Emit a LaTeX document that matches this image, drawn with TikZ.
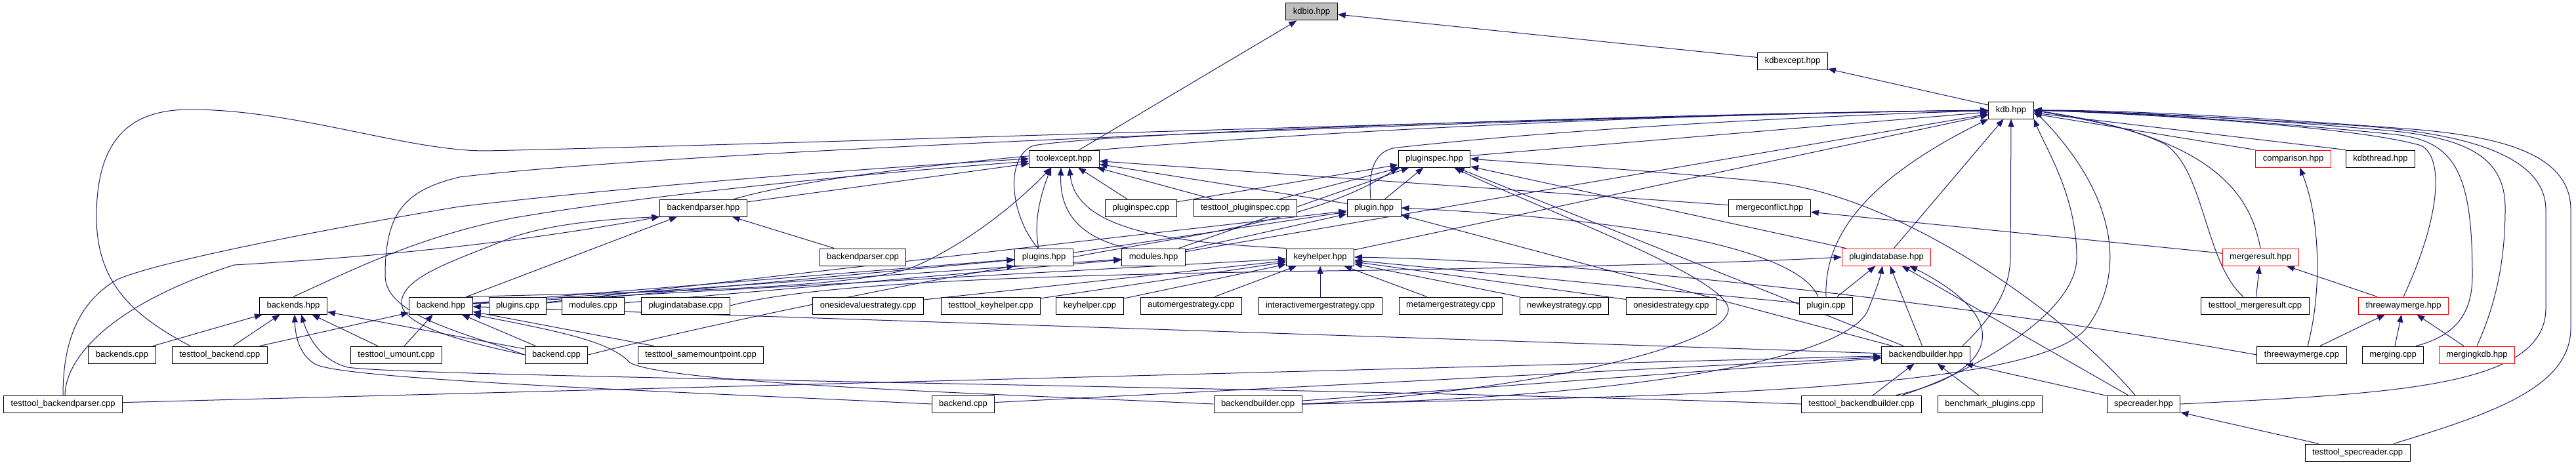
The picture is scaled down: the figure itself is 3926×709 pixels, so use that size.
\documentclass[tikz,border=0pt]{standalone}
\usepackage{fontspec}
\setmainfont{Liberation Sans}
\usetikzlibrary{arrows.meta,backgrounds}
\begin{document}
\begin{tikzpicture}[x=1pt, y=-1pt, every node/.style={font=\fontsize{13}{15}\selectfont},
    filebox/.style={draw=black, line width=1pt, fill=white, inner xsep=11pt, inner ysep=0pt, minimum height=26pt},
    filered/.style={filebox, draw=truncred},
    fileroot/.style={filebox, fill=rootgray},
    incl/.style={draw=edgeblue, line width=1pt, -{Triangle[length=12pt,width=9pt]}}]
    % Define colors
    \definecolor{edgeblue}{RGB}{25,25,112}
    \definecolor{truncred}{RGB}{255,0,0}
    \definecolor{rootgray}{RGB}{191,191,191}

    \useasboundingbox (0,0) rectangle (3926,709);

    % Headers at the top
    \node[fileroot] (kdbio) at (1999,18) {kdbio.hpp};
    \node[filebox] (kdbexcept) at (2732,93) {kdbexcept.hpp};
    \node[filebox] (kdb) at (3065,168) {kdb.hpp};

    % Row 1
    \node[filebox] (toolexcept) at (1622,242) {toolexcept.hpp};
    \node[filebox] (pluginspec) at (2186,242) {pluginspec.hpp};
    \node[filered] (comparison) at (3495,242) {comparison.hpp};
    \node[filebox] (kdbthread) at (3628,242) {kdbthread.hpp};

    % Row 2
    \node[filebox] (bparserh) at (1072,317) {backendparser.hpp};
    \node[filebox] (pspeccpp) at (1739,317) {pluginspec.cpp};
    \node[filebox] (ttpspec) at (1898,317) {testtool\_pluginspec.cpp};
    \node[filebox] (pluginh) at (2094,317) {plugin.hpp};
    \node[filebox] (mconflict) at (2697,317) {mergeconflict.hpp};

    % Row 3
    \node[filebox] (bparsercpp) at (1315,392) {backendparser.cpp};
    \node[filebox] (pluginsh) at (1591,392) {plugins.hpp};
    \node[filebox] (modulesh) at (1758,392) {modules.hpp};
    \node[filebox] (keyhelperh) at (2012,392) {keyhelper.hpp};
    \node[filered] (pdbh) at (2875,392) {plugindatabase.hpp};
    \node[filered] (mresult) at (3445,392) {mergeresult.hpp};

    % Row 4
    \node[filebox] (backendsh) at (447,466) {backends.hpp};
    \node[filebox] (backendh) at (672,466) {backend.hpp};
    \node[filebox] (pluginscpp) at (789,466) {plugins.cpp};
    \node[filebox] (modulescpp) at (904,466) {modules.cpp};
    \node[filebox] (pdbcpp) at (1045,466) {plugindatabase.cpp};
    \node[filebox] (osvalue) at (1323,466) {onesidevaluestrategy.cpp};
    \node[filebox] (ttkeyhelper) at (1510,466) {testtool\_keyhelper.cpp};
    \node[filebox] (keyhelpercpp) at (1661,466) {keyhelper.cpp};
    \node[filebox] (automerge) at (1815,466) {automergestrategy.cpp};
    \node[filebox] (interactive) at (2012,466) {interactivemergestrategy.cpp};
    \node[filebox] (metamerge) at (2211,466) {metamergestrategy.cpp};
    \node[filebox] (newkey) at (2384,466) {newkeystrategy.cpp};
    \node[filebox] (oneside) at (2547,466) {onesidestrategy.cpp};
    \node[filebox] (plugincpp) at (2783,466) {plugin.cpp};
    \node[filebox] (ttmresult) at (3437,466) {testtool\_mergeresult.cpp};
    \node[filered] (twmergeh) at (3663,466) {threewaymerge.hpp};

    % Row 5
    \node[filebox] (backendscpp) at (186,541) {backends.cpp};
    \node[filebox] (ttbackend) at (335,541) {testtool\_backend.cpp};
    \node[filebox] (ttumount) at (604,541) {testtool\_umount.cpp};
    \node[filebox] (backendcpp) at (848,541) {backend.cpp};
    \node[filebox] (ttsamemount) at (1068,541) {testtool\_samemountpoint.cpp};
    \node[filebox] (bbuilderh) at (2935,541) {backendbuilder.hpp};
    \node[filebox] (twmergecpp) at (3508,541) {threewaymerge.cpp};
    \node[filebox] (mergingcpp) at (3647,541) {merging.cpp};
    \node[filered] (mergingkdb) at (3775,541) {mergingkdb.hpp};

    % Row 6 and 7
    \node[filebox] (ttbparser) at (96,616) {testtool\_backendparser.cpp};
    \node[filebox] (backendcppb) at (1468,616) {backend.cpp};
    \node[filebox] (bbuildercpp) at (1917,616) {backendbuilder.cpp};
    \node[filebox] (ttbbuilder) at (2837,616) {testtool\_backendbuilder.cpp};
    \node[filebox] (benchmark) at (3033,616) {benchmark\_plugins.cpp};
    \node[filebox] (specreaderh) at (3267,616) {specreader.hpp};
    \node[filebox] (ttspecreader) at (3593,690) {testtool\_specreader.cpp};

    \begin{scope}[on background layer]
    \fill[white] (0,0) rectangle (3926,709);
    % Top chain
    \draw[incl] (toolexcept) -- (kdbio);
    \draw[incl] (kdbexcept) -- (kdbio);
    \draw[incl] (kdb) -- (kdbexcept);

    % Into kdb.hpp from the left
    \draw[incl] (bparserh) .. controls (1400,222) and (2500,172) .. (kdb);
    \draw[incl] ([xshift=-45pt]ttbackend.north) .. controls (200,480) and (147,430) .. (147,330)
        .. controls (147,200) and (210,167) .. (290,167) .. controls (450,167) and (620,230) .. (740,230)
        .. controls (1200,220) and (2600,172) .. (kdb);
    \draw[incl] (backendcpp.west) .. controls (700,505) and (587,480) .. (587,420)
        .. controls (587,320) and (620,290) .. (700,270) .. controls (1100,222) and (2600,172) .. (kdb);
    \draw[incl] ([xshift=-9pt]pluginsh.north) .. controls (1540,330) and (1530,240) .. (1575,222)
        .. controls (1700,200) and (2600,172) .. (kdb);
    \draw[incl] ([xshift=-5pt]pluginh.north) .. controls (2085,260) and (2095,228) .. (2130,225)
        .. controls (2400,195) and (2800,175) .. (kdb);
    \draw[incl] (pluginspec) -- (kdb);
    \draw[incl] (keyhelperh) -- (kdb);
    \draw[incl] (modulesh) -- (kdb);
    \draw[incl] (pdbh) -- (kdb);
    \draw[incl] (plugincpp.north) .. controls (2780,370) and (2830,280) .. (kdb.south west);
    \draw[incl] ([xshift=-12pt]bbuilderh.north east) .. controls (3040,480) and (3064,440) .. (3064,390) -- (kdb.south);
    \draw[incl] ([xshift=-30pt]ttbbuilder.north east) .. controls (3000,570) and (3165,480) .. (3165,393)
        .. controls (3165,300) and (3120,230) .. (kdb.south east);
    \draw[incl] (bbuildercpp.east) .. controls (2500,605) and (3100,600) .. (3180,500)
        .. controls (3240,420) and (3230,300) .. (kdb.east);

    % Into kdb.hpp from the right
    \draw[incl] (comparison.north west) -- (kdb);
    \draw[incl] (kdbthread.north west) -- (kdb);
    \draw[incl] (mresult.north) .. controls (3430,300) and (3380,210) .. (kdb.east);
    \draw[incl] ([xshift=-18pt]ttmresult.north) .. controls (3360,400) and (3360,260) .. (3300,220)
        .. controls (3240,190) and (3150,178) .. (kdb.east);
    \draw[incl] (twmergeh.north) .. controls (3720,330) and (3725,240) .. (3690,222)
        .. controls (3600,195) and (3300,175) .. (kdb.east);
    \draw[incl] ([xshift=35pt]mergingcpp.north) .. controls (3750,510) and (3768,470) .. (3768,420)
        .. controls (3768,260) and (3740,215) .. (3650,205) .. controls (3450,185) and (3250,172) .. (kdb.east);
    \draw[incl] (mergingkdb.north) .. controls (3810,450) and (3818,380) .. (3818,317)
        .. controls (3818,240) and (3760,212) .. (3650,200) .. controls (3450,182) and (3250,170) .. (kdb.east);
    \draw[incl] (specreaderh.east) .. controls (3650,600) and (3880,590) .. (3880,470) -- (3880,320)
        .. controls (3880,220) and (3700,200) .. (3600,192) .. controls (3400,180) and (3200,170) .. (kdb.east);
    \draw[incl] ([xshift=55pt]ttspecreader.north) .. controls (3800,630) and (3918,590) .. (3918,500) -- (3918,320)
        .. controls (3918,230) and (3800,205) .. (3650,195) .. controls (3450,180) and (3250,168) .. (kdb.east);

    % Into toolexcept.hpp
    \draw[incl] (ttbparser.north) .. controls (96,520) and (120,460) .. (179,426)
        .. controls (250,395) and (550,340) .. (700,315) .. controls (1000,280) and (1350,255) .. (toolexcept.west);
    \draw[incl] (backendsh.north) .. controls (540,410) and (640,360) .. (784,332)
        .. controls (1000,295) and (1350,262) .. ([yshift=-4pt]toolexcept.west);
    \draw[incl] (bparserh) -- (toolexcept);
    \draw[incl] ([xshift=-10pt]backendh.north east) .. controls (1000,445) and (1300,440) .. (1390,408)
        .. controls (1480,370) and (1560,300) .. ([xshift=-20pt]toolexcept.south);
    \draw[incl] ([xshift=-8pt]pluginsh.north) .. controls (1575,340) and (1585,300) .. ([xshift=-20pt]toolexcept.south);
    \draw[incl] ([xshift=-40pt]modulesh.north) .. controls (1640,360) and (1615,320) .. ([xshift=-5pt]toolexcept.south);
    \draw[incl] (keyhelperh.north west) .. controls (1800,370) and (1640,355) .. ([xshift=8pt]toolexcept.south);
    \draw[incl] (pspeccpp) -- (toolexcept);
    \draw[incl] (ttpspec) -- (toolexcept);
    \draw[incl] (pluginh) -- (toolexcept);
    \draw[incl] (mconflict) -- (toolexcept);

    % Into pluginspec.hpp
    \draw[incl] (pspeccpp) -- (pluginspec);
    \draw[incl] (ttpspec) -- (pluginspec);
    \draw[incl] (pluginh) -- (pluginspec);
    \draw[incl] (pdbh) -- (pluginspec);
    \draw[incl] (bbuilderh) -- (pluginspec);
    \draw[incl] (modulesh) -- (pluginspec);
    \draw[incl] (pluginsh.east) .. controls (1800,360) and (2000,340) .. (pluginspec.south west);
    \draw[incl] ([xshift=-13pt]specreaderh.north) .. controls (3150,480) and (2900,300) .. (2700,278)
        .. controls (2500,258) and (2300,247) .. (pluginspec.east);
    \draw[incl] (bbuildercpp.east) .. controls (2300,600) and (2640,530) .. (2634,470)
        .. controls (2625,420) and (2350,320) .. ([xshift=30pt]pluginspec.south);

    % Into plugin.hpp
    \draw[incl] (pluginsh) -- (pluginh);
    \draw[incl] (modulesh) -- (pluginh);
    \draw[incl] (pluginscpp) -- (pluginh);
    \draw[incl] (bbuilderh) -- (pluginh);
    \draw[incl] ([xshift=-12pt]plugincpp.north) .. controls (2750,400) and (2600,340) .. (pluginh.east);

    % Into backendparser.hpp
    \draw[incl] ([xshift=3pt]ttbparser.north) .. controls (100,540) and (180,460) .. (357,404)
        .. controls (600,390) and (800,368) .. (bparserh.south west);
    \draw[incl] (bparsercpp) -- (bparserh);
    \draw[incl] ([xshift=-10pt]backendh.north east) -- ([xshift=-40pt]bparserh.south);
    \draw[incl] (backendcpp.west) .. controls (700,520) and (609,495) .. (612,460)
        .. controls (615,420) and (700,395) .. (780,362) .. controls (850,338) and (950,333) .. (bparserh.south west);

    % Into backends.hpp
    \draw[incl] (backendscpp) -- (backendsh);
    \draw[incl] (ttbackend) -- (backendsh);
    \draw[incl] (ttumount) -- (backendsh);
    \draw[incl] (backendcpp) -- (backendsh);
    \draw[incl] (backendcppb.west) .. controls (1100,600) and (520,580) .. (480,555)
        .. controls (455,540) and (450,510) .. ([xshift=2pt]backendsh.south);
    \draw[incl] (ttbbuilder.west) .. controls (2000,590) and (620,575) .. (530,560)
        .. controls (490,550) and (470,515) .. ([xshift=12pt]backendsh.south);

    % Into backend.hpp
    \draw[incl] (ttbackend) -- (backendh);
    \draw[incl] (ttumount) -- (backendh);
    \draw[incl] (backendcpp) -- (backendh);
    \draw[incl] (ttsamemount) -- (backendh);
    \draw[incl] (bbuilderh) -- (backendh);
    \draw[incl] (bbuildercpp.west) .. controls (1500,600) and (1020,585) .. (960,553)
        .. controls (930,520) and (850,505) .. (backendh.south east);

    % plugins.hpp, modules.hpp, keyhelper.hpp
    \draw[incl] (pluginscpp) -- (pluginsh);
    \draw[incl] (backendh) -- (pluginsh);
    \draw[incl] (backendcpp.east) .. controls (1100,490) and (1400,430) .. (pluginsh.south west);
    \draw[incl] (modulescpp) -- (modulesh);
    \draw[incl] (backendh) -- (modulesh);
    \draw[incl] (backendh) -- (keyhelperh);
    \draw[incl] (osvalue) -- (keyhelperh);
    \draw[incl] (ttkeyhelper) -- (keyhelperh);
    \draw[incl] (keyhelpercpp) -- (keyhelperh);
    \draw[incl] (automerge) -- (keyhelperh);
    \draw[incl] (interactive) -- (keyhelperh);
    \draw[incl] (metamerge) -- (keyhelperh);
    \draw[incl] (newkey) -- (keyhelperh);
    \draw[incl] (oneside) -- (keyhelperh);
    \draw[incl] (plugincpp) -- (keyhelperh);
    \draw[incl] (twmergecpp.west) .. controls (3100,480) and (2500,400) .. (keyhelperh.east);

    % Into plugindatabase.hpp
    \draw[incl] (pdbcpp.east) .. controls (1250,430) and (1600,418) .. (2100,412)
        .. controls (2500,405) and (2700,398) .. (pdbh.west);
    \draw[incl] (plugincpp) -- (pdbh);
    \draw[incl] (bbuilderh) -- (pdbh);
    \draw[incl] (specreaderh) -- (pdbh);
    \draw[incl] (bbuildercpp.east) .. controls (2400,610) and (2800,560) .. (2846,475)
        .. controls (2860,440) and (2865,425) .. ([xshift=-6pt]pdbh.south);
    \draw[incl] ([xshift=53pt]ttbbuilder.north) .. controls (2990,580) and (3030,540) .. (3020,500)
        .. controls (3010,460) and (2950,425) .. ([xshift=35pt]pdbh.south);

    % Merge headers
    \draw[incl] (ttmresult) -- (mresult);
    \draw[incl] (twmergeh) -- (mresult);
    \draw[incl] (mresult) -- (mconflict);
    \draw[incl] (twmergecpp) -- (twmergeh);
    \draw[incl] (mergingcpp) -- (twmergeh);
    \draw[incl] (mergingkdb) -- (twmergeh);
    \draw[incl] ([xshift=9pt]twmergecpp.north) .. controls (3540,440) and (3535,330) .. ([xshift=10pt]comparison.south);

    % Into backendbuilder.hpp and specreader.hpp
    \draw[incl] (ttbbuilder) -- (bbuilderh);
    \draw[incl] (benchmark) -- (bbuilderh);
    \draw[incl] (specreaderh) -- (bbuilderh);
    \draw[incl] (bbuildercpp) -- (bbuilderh);
    \draw[incl] (backendcppb) -- (bbuilderh);
    \draw[incl] (ttbparser) -- (bbuilderh);
    \draw[incl] (ttspecreader) -- (specreaderh);
    \end{scope}
\end{tikzpicture}
\end{document}
